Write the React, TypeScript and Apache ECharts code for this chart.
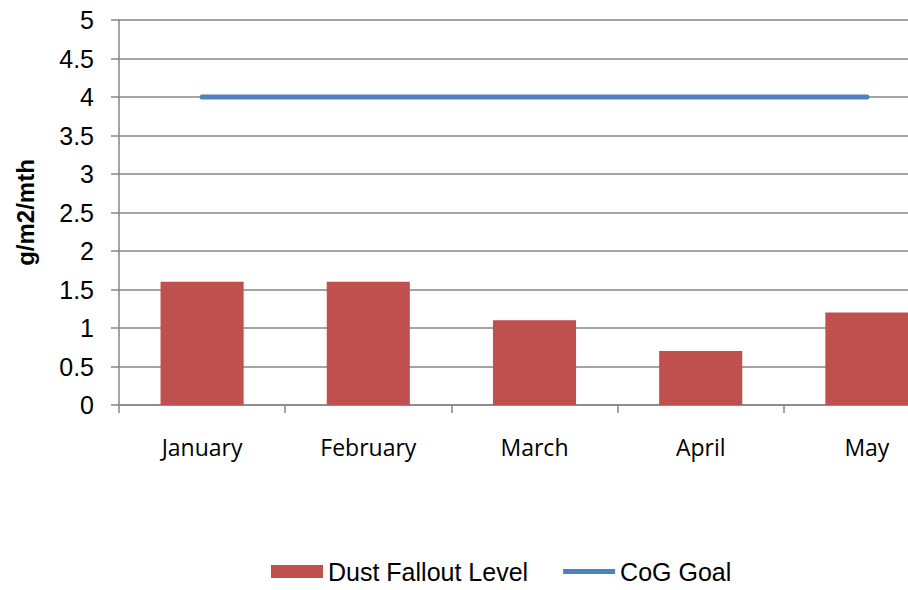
import React, { useEffect, useRef } from "react";
import * as echarts from "echarts";

const categories = ["January", "February", "March", "April", "May"];
const dustFallout = [1.6, 1.6, 1.1, 0.7, 1.2];
const cogGoal = [4, 4, 4, 4, 4];

export default function App() {
  const ref = useRef<HTMLDivElement>(null);
  useEffect(() => {
    if (!ref.current) return;
    const chart = echarts.init(ref.current, null, { renderer: "svg" });
    chart.setOption({
      animation: false,
      backgroundColor: "#ffffff",
      grid: { left: 119, top: 20, width: 831, height: 385, containLabel: false },
      legend: {
        left: 271,
        top: 559,
        padding: 0,
        itemWidth: 52,
        itemHeight: 13,
        itemGap: 35,
        textStyle: { fontFamily: "Liberation Sans, Arial", fontSize: 25, color: "#000" },
        data: [
          { name: "Dust Fallout Level", icon: "rect" },
          { name: "CoG Goal", icon: "path://M0,0H52V5H0Z" },
        ],
      },
      xAxis: {
        type: "category",
        data: categories,
        boundaryGap: true,
        axisLine: { lineStyle: { color: "#868686", width: 1.5 } },
        axisTick: { show: true, length: 8, lineStyle: { color: "#868686", width: 1.5 } },
        axisLabel: {
          margin: 30,
          fontFamily: "Open Sans",
          fontSize: 23,
          color: "#000",
        },
        splitLine: { show: false },
      },
      yAxis: {
        type: "value",
        min: 0,
        max: 5,
        interval: 0.5,
        name: "g/m2/mth",
        nameLocation: "middle",
        nameGap: 82,
        nameRotate: 90,
        nameTextStyle: {
          fontFamily: "Liberation Sans, Arial",
          fontWeight: "bold",
          fontSize: 24,
          color: "#000",
        },
        axisLine: { show: true, lineStyle: { color: "#868686", width: 1.5 } },
        axisTick: { show: true, length: 8, lineStyle: { color: "#868686", width: 1.5 } },
        axisLabel: {
          margin: 25,
          fontFamily: "Liberation Sans, Arial",
          fontSize: 25,
          color: "#000",
        },
        splitLine: { show: true, lineStyle: { color: "#868686", width: 1.5 } },
      },
      series: [
        {
          name: "Dust Fallout Level",
          type: "bar",
          data: dustFallout,
          barWidth: "50%",
          itemStyle: { color: "#C0504D" },
        },
        {
          name: "CoG Goal",
          type: "line",
          data: cogGoal,
          symbol: "none",
          lineStyle: { color: "#4F81BD", width: 5, cap: "round" },
          itemStyle: { color: "#4F81BD" },
        },
      ],
    });
    return () => chart.dispose();
  }, []);
  return (
    <div
      style={{
        position: "fixed",
        left: 0,
        top: 0,
        width: 908,
        height: 590,
        overflow: "hidden",
        background: "#fff",
      }}
    >
      <div ref={ref} style={{ width: 960, height: 590 }} />
    </div>
  );
}
